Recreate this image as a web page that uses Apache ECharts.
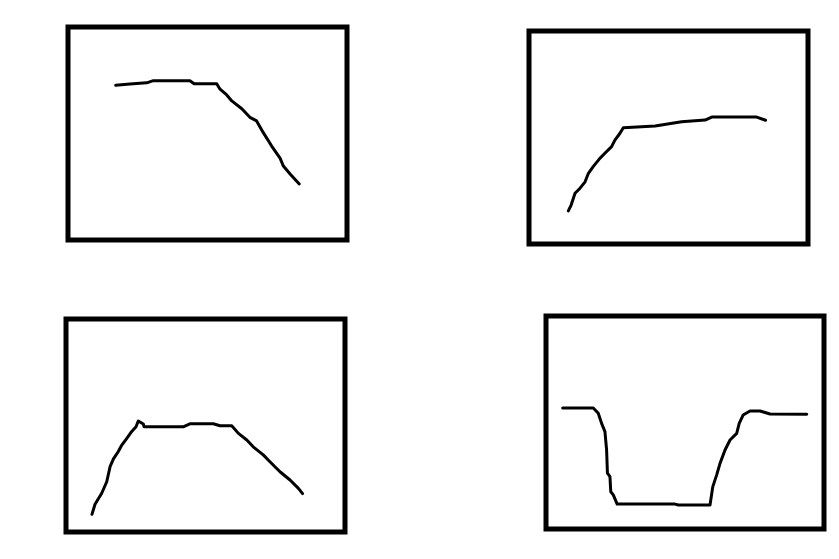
<!DOCTYPE html>
<html>
<head>
<meta charset="utf-8">
<script src="https://cdn.jsdelivr.net/npm/echarts@6/dist/echarts.min.js"></script>
<style>html,body{margin:0;padding:0;background:#fff;}#c{width:839px;height:559px;}</style>
</head>
<body>
<div id="c"></div>
<script>
// Panel 1 (top-left): plateau then falling
var p1X = [17.1, 22.2, 28.2, 30.6, 43.7, 45.2, 53.3, 54.5, 56.9, 58.7, 62.3, 65.2, 67.6, 70.0, 73.0, 76.0, 77.2, 79.6, 82.9];
var p1Y = [72.6, 73.2, 73.8, 74.8, 74.8, 73.4, 73.4, 70.8, 68.1, 65.3, 61.6, 57.6, 55.9, 50.4, 44.1, 38.4, 34.7, 31.0, 26.3];
// Panel 2 (top-right): rising then plateau
var p2X = [14.1, 15.1, 16.5, 18.3, 20.1, 21.3, 23.0, 25.4, 27.2, 29.6, 30.8, 32.6, 33.8, 45.2, 54.7, 63.1, 65.5, 81.6, 84.8];
var p2Y = [15.5, 18.3, 23.8, 26.2, 29.2, 33.2, 36.3, 40.2, 42.6, 45.7, 48.8, 52.0, 54.6, 55.4, 57.4, 58.2, 59.6, 59.6, 58.1];
// Panel 3 (bottom-left): rise, plateau, fall
var p3X = [9.3, 10.4, 12.8, 14.6, 15.8, 17.0, 18.7, 20.0, 21.8, 23.5, 25.1, 25.9, 27.7, 28.0, 42.0, 44.4, 52.8, 55.2, 59.4, 61.8, 64.8, 67.1, 70.7, 73.1, 76.7, 80.3, 83.3, 84.8];
var p3Y = [8.3, 13.0, 18.2, 23.6, 30.7, 34.3, 37.7, 40.8, 44.0, 47.1, 49.4, 52.1, 50.7, 49.4, 49.4, 50.8, 50.8, 49.9, 49.9, 46.3, 43.2, 40.0, 36.2, 33.0, 28.3, 24.4, 20.5, 18.0];
// Panel 4 (bottom-right): drop, trough, recovery
var p4X = [6.0, 17.0, 18.8, 20.0, 21.2, 21.8, 22.1, 23.0, 23.3, 24.2, 25.6, 46.4, 47.6, 59.0, 60.0, 61.4, 62.6, 64.4, 66.2, 68.6, 69.5, 70.9, 73.4, 77.0, 80.6, 93.8];
var p4Y = [56.8, 56.8, 54.3, 49.6, 45.7, 37.1, 26.2, 24.6, 17.5, 16.0, 11.7, 11.7, 11.3, 11.3, 19.9, 25.4, 30.8, 37.1, 41.8, 44.9, 49.6, 53.5, 55.4, 55.4, 54.0, 53.9];

var panelsX = [p1X, p2X, p3X, p4X];
var panelsY = [p1Y, p2Y, p3Y, p4Y];
var boxes = [
  {left: 68, top: 27, width: 279, height: 213},
  {left: 529, top: 31, width: 279, height: 213},
  {left: 66, top: 319, width: 279, height: 213},
  {left: 546, top: 316, width: 278, height: 213}
];

var grids = [], xAxes = [], yAxes = [], series = [];
for (var i = 0; i < 4; i++) {
  var b = boxes[i];
  grids.push({left: b.left, top: b.top, width: b.width, height: b.height,
    show: true, borderColor: '#000', borderWidth: 5, backgroundColor: 'transparent', containLabel: false});
  xAxes.push({type: 'value', gridIndex: i, min: 0, max: 100, show: false});
  yAxes.push({type: 'value', gridIndex: i, min: 0, max: 100, show: false});
  var data = [];
  for (var j = 0; j < panelsX[i].length; j++) data.push([panelsX[i][j], panelsY[i][j]]);
  series.push({type: 'line', xAxisIndex: i, yAxisIndex: i, data: data, showSymbol: false,
    symbol: 'none', animation: false, silent: true,
    lineStyle: {color: '#000', width: 3, cap: 'round', join: 'round'}});
}

var chart = echarts.init(document.getElementById('c'), null, {renderer: 'canvas'});
chart.setOption({
  backgroundColor: '#fff',
  animation: false,
  grid: grids,
  xAxis: xAxes,
  yAxis: yAxes,
  series: series
});
</script>
</body>
</html>
